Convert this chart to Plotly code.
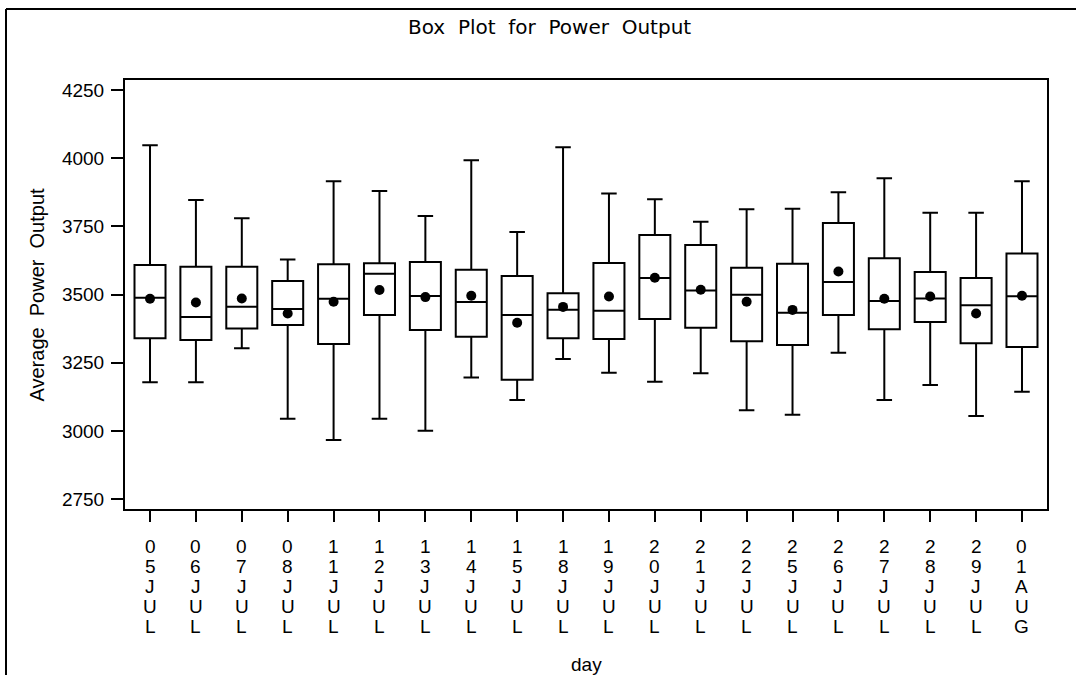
import plotly.graph_objects as go

days = ['05JUL', '06JUL', '07JUL', '08JUL', '11JUL', '12JUL', '13JUL', '14JUL', '15JUL', '18JUL',
        '19JUL', '20JUL', '21JUL', '22JUL', '25JUL', '26JUL', '27JUL', '28JUL', '29JUL', '01AUG']
lower = [3179, 3179, 3303, 3045, 2967, 3045, 3001, 3196, 3114, 3264,
         3214, 3181, 3212, 3076, 3060, 3287, 3114, 3169, 3055, 3144]
q1 = [3340, 3334, 3376, 3389, 3319, 3425, 3370, 3346, 3188, 3340,
      3337, 3411, 3379, 3329, 3315, 3425, 3373, 3400, 3322, 3308]
median = [3489, 3418, 3456, 3447, 3485, 3577, 3495, 3473, 3425, 3445,
          3441, 3561, 3515, 3500, 3434, 3546, 3477, 3486, 3461, 3494]
q3 = [3609, 3602, 3602, 3550, 3611, 3615, 3620, 3591, 3568, 3505,
      3616, 3719, 3682, 3599, 3613, 3763, 3633, 3583, 3561, 3651]
upper = [4048, 3847, 3780, 3629, 3916, 3880, 3788, 3993, 3730, 4040,
         3871, 3850, 3767, 3813, 3815, 3875, 3927, 3800, 3800, 3916]
mean = [3485, 3471, 3486, 3431, 3474, 3517, 3491, 3496, 3397, 3455,
        3493, 3562, 3518, 3474, 3444, 3585, 3485, 3493, 3431, 3496]
y_ticks = [2750, 3000, 3250, 3500, 3750, 4000, 4250]

FONT = "Liberation Sans, Arial, sans-serif"
NB = "\u00a0\u00a0"

fig = go.Figure()
fig.add_trace(go.Box(
    x=days, q1=q1, median=median, q3=q3, lowerfence=lower, upperfence=upper,
    fillcolor="white", line=dict(color="black", width=2), width=0.676,
    whiskerwidth=0.5, boxpoints=False, showlegend=False, hoverinfo="skip"))
fig.add_trace(go.Scatter(
    x=days, y=mean, mode="markers",
    marker=dict(color="black", size=10), showlegend=False, hoverinfo="skip"))

annotations = []
for d in days:
    for j, ch in enumerate(d):
        annotations.append(dict(
            x=d, xref="x", y=0, yref="paper", text=ch, showarrow=False,
            xanchor="center", yanchor="top", yshift=-25 - 20 * j,
            font=dict(family=FONT, size=19, color="black")))
annotations.append(dict(
    x=0.5, xref="paper", y=0, yref="paper", text="day", showarrow=False,
    xanchor="center", yanchor="top", yshift=-143,
    font=dict(family=FONT, size=19, color="black")))
annotations.append(dict(
    x=(36 - 125) / 922, xref="paper", y=0.5, yref="paper",
    text="Average" + NB + "Power" + NB + "Output", textangle=-90, showarrow=False,
    xanchor="center", yanchor="middle",
    font=dict(family=FONT, size=20, color="black")))
annotations.append(dict(
    x=(549 - 125) / 922, xref="paper", y=1, yref="paper",
    text="Box" + NB + "Plot" + NB + "for" + NB + "Power" + NB + "Output", showarrow=False,
    xanchor="center", yanchor="middle", yshift=53,
    font=dict(family="DejaVu Sans, sans-serif", size=20, color="black")))

frame_left = (6 - 125) / 922
frame_top = (509 - 9) / 429
fig.update_layout(
    width=1076, height=675,
    margin=dict(l=125, r=29, t=80, b=166),
    paper_bgcolor="white", plot_bgcolor="white",
    annotations=annotations,
    shapes=[
        dict(type="line", xref="paper", yref="paper",
             x0=frame_left, x1=frame_left, y0=frame_top, y1=(509 - 700) / 429,
             line=dict(color="black", width=2)),
        dict(type="line", xref="paper", yref="paper",
             x0=frame_left, x1=(1100 - 125) / 922, y0=frame_top, y1=frame_top,
             line=dict(color="black", width=2)),
    ],
    xaxis=dict(range=[-0.545, 19.545], showgrid=False, zeroline=False,
               showline=True, mirror=True, linecolor="black", linewidth=2,
               ticks="outside", ticklen=11, tickwidth=1.5, tickcolor="black",
               showticklabels=False),
    yaxis=dict(range=[2714, 4287], showgrid=False, zeroline=False,
               showline=True, mirror=True, linecolor="black", linewidth=2,
               ticks="outside", ticklen=12, tickwidth=1.5, tickcolor="black",
               tickvals=y_ticks, ticktext=[str(v) for v in y_ticks],
               ticklabelstandoff=3,
               tickfont=dict(family=FONT, size=19, color="black")),
)

fig.write_html("out.html")
